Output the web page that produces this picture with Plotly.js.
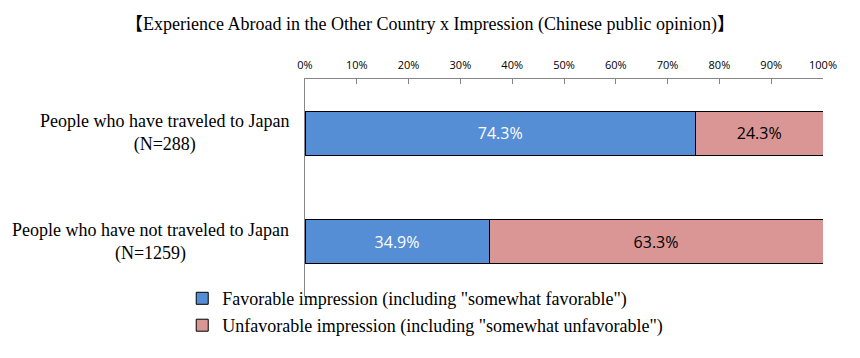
<!DOCTYPE html>
<html>
<head>
<meta charset="utf-8">
<script src="https://cdn.plot.ly/plotly-3.0.1.min.js"></script>
<style>html,body{margin:0;padding:0;background:#fff;}#chart{width:860px;height:358px;}</style>
</head>
<body>
<div id="chart"></div>
<script>
const categories = ["People who have traveled to Japan<br>(N=288)", "People who have not traveled to Japan<br>(N=1259)"];
const seriesNames = ["Favorable impression (including \"somewhat favorable\")", "Unfavorable impression (including \"somewhat unfavorable\")"];
const favorable = [74.3, 34.9];
const unfavorable = [24.3, 63.3];
const tickValues = [0, 10, 20, 30, 40, 50, 60, 70, 80, 90, 100];
const tickLabels = ["0%", "10%", "20%", "30%", "40%", "50%", "60%", "70%", "80%", "90%", "100%"];

const serif = "Liberation Serif, Times New Roman, Noto Sans CJK JP, serif";
const sans = "Open Sans, Liberation Sans, sans-serif";

const traces = [
  {
    type: "bar", orientation: "h", name: seriesNames[0], y: categories, x: favorable,
    text: favorable.map(v => v.toFixed(1) + "%"), textposition: "inside", insidetextanchor: "middle",
    textfont: {family: sans, size: 16, color: "#ffffff"},
    marker: {color: "#558ED5", line: {color: "#000000", width: 1}},
    width: 0.41, legend: "legend", hoverinfo: "skip"
  },
  {
    type: "bar", orientation: "h", name: seriesNames[1], y: categories, x: unfavorable,
    text: unfavorable.map(v => v.toFixed(1) + "%"), textposition: "inside", insidetextanchor: "middle",
    textfont: {family: sans, size: 16, color: "#000000"},
    marker: {color: "#D99694", line: {color: "#000000", width: 1}},
    width: 0.41, legend: "legend2", hoverinfo: "skip"
  }
];

const categoryAnnotations = categories.map(c => ({
  text: c, xref: "paper", x: 0, xanchor: "right", xshift: -14,
  yref: "y", y: c, yanchor: "middle", align: "center", showarrow: false,
  font: {family: serif, size: 18, color: "#000000"}
}));

const legendBase = {
  xref: "paper", yref: "paper", x: -0.237, xanchor: "left", yanchor: "middle",
  orientation: "v", font: {family: serif, size: 18, color: "#000000"},
  bgcolor: "rgba(0,0,0,0)", itemwidth: 30
};

const layout = {
  width: 860, height: 358,
  margin: {l: 305, r: 37, t: 79, b: 62},
  barmode: "stack", barnorm: "percent",
  paper_bgcolor: "#ffffff", plot_bgcolor: "#ffffff",
  title: {text: "【Experience Abroad in the Other Country x Impression (Chinese public opinion)】",
          font: {family: serif, size: 18, color: "#000000"}, x: 0.5, xanchor: "center", y: 0.935, yanchor: "middle"},
  xaxis: {
    side: "top", range: [0, 100], tickvals: tickValues, ticktext: tickLabels,
    showgrid: false, zeroline: false, showline: true, linecolor: "#868686", linewidth: 1,
    ticks: "inside", ticklen: 5, tickcolor: "#868686",
    tickfont: {family: sans, size: 11, color: "#000000"}, ticklabelstandoff: 5, fixedrange: true
  },
  yaxis: {
    autorange: "reversed", showgrid: false, zeroline: false, showline: true, linecolor: "#868686", linewidth: 1,
    ticks: "", showticklabels: false, fixedrange: true
  },
  annotations: categoryAnnotations,
  showlegend: true,
  legend: Object.assign({}, legendBase, {y: -0.012}),
  legend2: Object.assign({}, legendBase, {y: -0.136}),
  hovermode: false
};

Plotly.newPlot("chart", traces, layout, {displayModeBar: false, staticPlot: true});
</script>
</body>
</html>
